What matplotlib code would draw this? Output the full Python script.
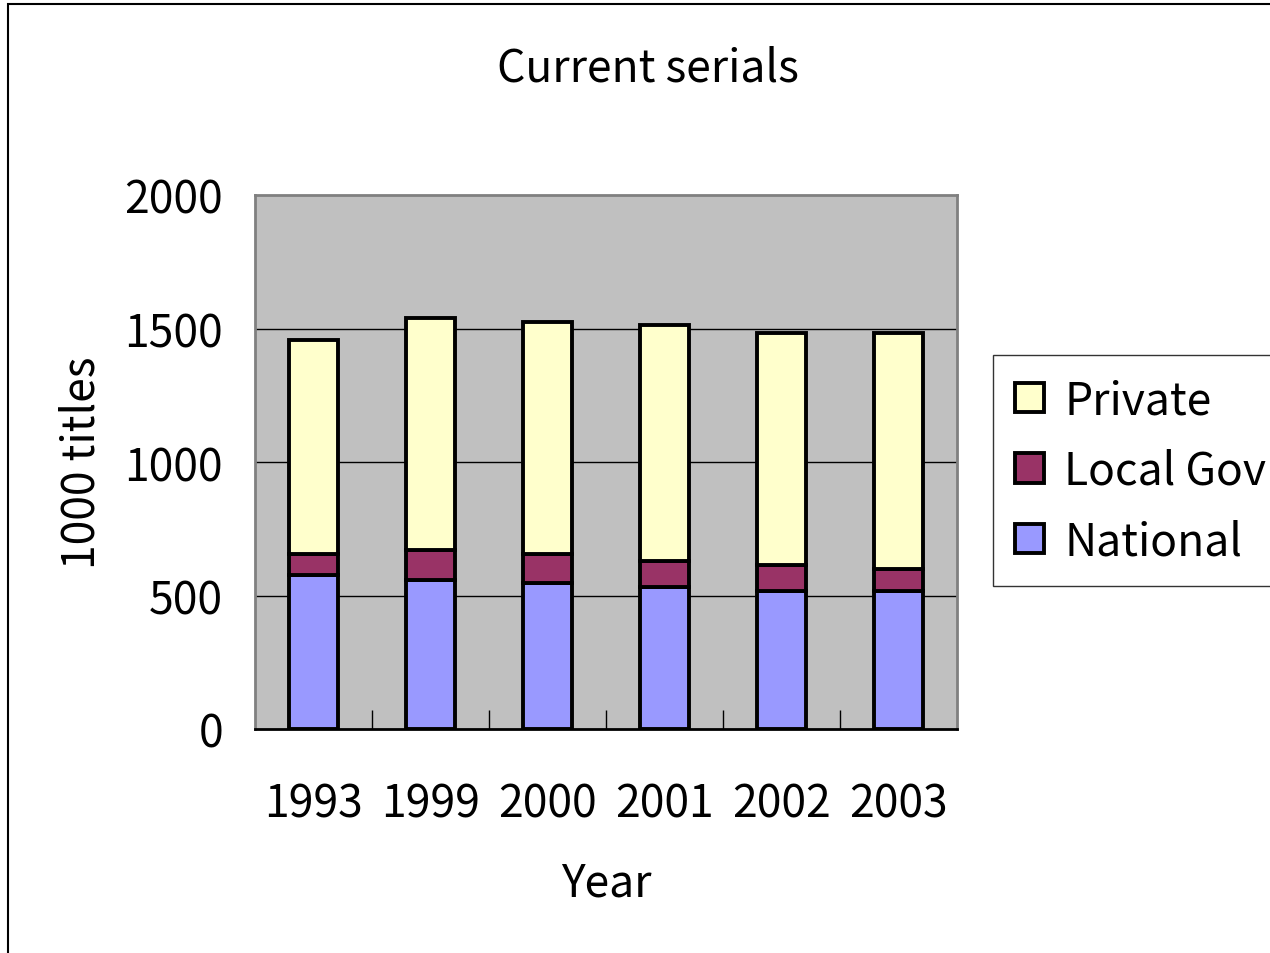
import numpy as np
import matplotlib
matplotlib.use("Agg")
from matplotlib import pyplot as plt
from matplotlib.patches import Rectangle

plt.rcParams['font.family'] = ['Noto Sans CJK JP', 'DejaVu Sans']

years = ['1993', '1999', '2000', '2001', '2002', '2003']
national = [575, 559, 545, 531, 517, 517]
local_gov = [82, 112, 112, 99, 98, 84]
private = [799, 870, 869, 884, 869, 883]
yticks = [0, 500, 1000, 1500, 2000]

fs = 32
fig = plt.figure(figsize=(12.7, 9.54), dpi=100)
ax = fig.add_axes([255/1270, 1-730/954, 702/1270, 534/954])
ax.set_facecolor('#C0C0C0')

x = np.arange(len(years))
w = 0.42
kw = dict(width=w, edgecolor='black', linewidth=2.8, zorder=3)
b1 = ax.bar(x, national, color='#9999FF', label='National', **kw)
b2 = ax.bar(x, local_gov, bottom=national, color='#993366', label='Local Gov', **kw)
bot = np.array(national) + np.array(local_gov)
b3 = ax.bar(x, private, bottom=bot, color='#FFFFCC', label='Private', **kw)

ax.set_xlim(-0.5, len(years) - 0.5)
ax.set_ylim(0, 2000)
ax.set_yticks(yticks)
ax.set_yticklabels([str(v) for v in yticks], fontsize=fs)
for v in yticks[1:-1]:
    ax.axhline(v, color='black', linewidth=1, zorder=1)

ax.set_xticks(x)
ax.set_xticklabels(years, fontsize=fs)
ax.tick_params(axis='x', length=0, pad=37)
ax.set_xticks(np.arange(0.5, len(years) - 0.5), minor=True)
ax.tick_params(axis='x', which='minor', direction='in', length=14, width=1)
ax.tick_params(axis='y', length=0, pad=23)

for s in ['left', 'top', 'right']:
    ax.spines[s].set_color('#808080')
    ax.spines[s].set_linewidth(2)
ax.spines['bottom'].set_color('black')
ax.spines['bottom'].set_linewidth(2)

ax.set_xlabel('Year', fontsize=fs, labelpad=24)
ax.set_ylabel('1000 titles', fontsize=fs, labelpad=14)
fig.text(648/1270, 1-68/954, 'Current serials', fontsize=fs, ha='center', va='center')

leg = fig.legend(handles=[b3, b2, b1], loc='upper left',
                 bbox_to_anchor=(993/1270, 1-356/954), fontsize=fs,
                 frameon=True, fancybox=False, handlelength=0.65, handleheight=0.65,
                 handletextpad=0.45, labelspacing=0.55, borderpad=0.5,
                 borderaxespad=0)
leg.get_frame().set_edgecolor('black')
leg.get_frame().set_linewidth(1)

fig.patches.append(Rectangle((8/1270, -0.05), 1.2, 1.05-5/954, transform=fig.transFigure,
                             fill=False, edgecolor='black', linewidth=1.5))

fig.savefig('out.png', dpi=100)
